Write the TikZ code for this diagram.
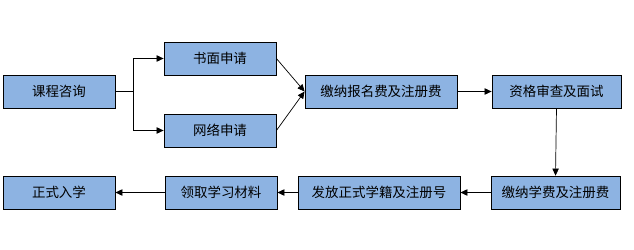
\documentclass[tikz,border=0pt]{standalone}
\usepackage{fontspec}
\setmainfont{Noto Sans CJK SC}
\definecolor{boxblue}{HTML}{8DB3E2}
\usepackage{tikz}
\usetikzlibrary{arrows.meta, positioning, calc}

\begin{document}
\begin{tikzpicture}[x=0.03cm, y=-0.03cm,
    stepbox/.style={draw=black, line width=0.7pt, fill=boxblue,
      minimum height=0.99cm, inner sep=0pt, font=\fontsize{11.5}{13}\selectfont},
    flow/.style={line width=0.6pt, -{Triangle[length=6pt, width=5.5pt]}}]
      \useasboundingbox (0,0) rectangle (634,250);
      % top row
      \node[stepbox, minimum width=3.36cm] (zx) at (59,91.5) {课程咨询};
      \node[stepbox, minimum width=3.36cm] (sm) at (220,58.5) {书面申请};
      \node[stepbox, minimum width=3.36cm] (wl) at (220,130.5) {网络申请};
      \node[stepbox, minimum width=4.56cm] (bm) at (381,91.5) {缴纳报名费及注册费};
      \node[stepbox, minimum width=3.87cm] (zg) at (556.5,91.5) {资格审查及面试};
      % bottom row
      \node[stepbox, minimum width=3.87cm] (xf) at (555.5,192.5) {缴纳学费及注册费};
      \node[stepbox, minimum width=4.86cm] (ff) at (379,192.5) {发放正式学籍及注册号};
      \node[stepbox, minimum width=3.36cm] (lq) at (221,192.5) {领取学习材料};
      \node[stepbox, minimum width=3.36cm] (rx) at (59,192.5) {正式入学};
      % fork after consulting
      \coordinate (fork) at (133,91.5);
      \draw[line width=0.6pt] (zx.east) -- (fork);
      \draw[flow] (fork) |- (sm.west);
      \draw[flow] (fork) |- (wl.west);
      % join at fee payment
      \draw[flow] (sm.east) -- (bm.west);
      \draw[flow] (wl.east) -- (bm.west);
      \draw[flow] (bm) -- (zg);
      \draw[flow] (zg.south) -- (xf.north);
      % back along the bottom
      \draw[flow] (xf) -- (ff);
      \draw[flow] (ff) -- (lq);
      \draw[flow] (lq) -- (rx);
    \end{tikzpicture}
\end{document}
